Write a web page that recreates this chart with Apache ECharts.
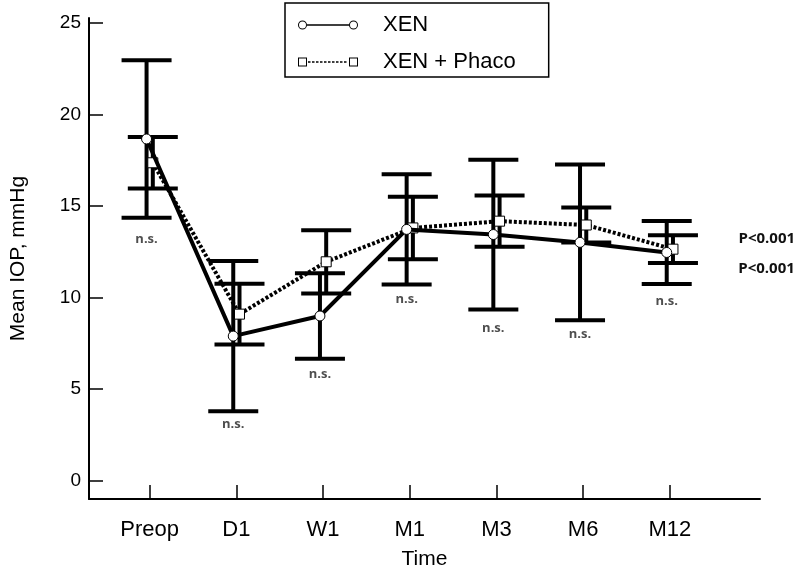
<!DOCTYPE html>
<html><head><meta charset="utf-8">
<script src="https://cdn.jsdelivr.net/npm/echarts@6/dist/echarts.min.js"></script>
<style>html,body{margin:0;padding:0;background:#fff}#c{width:800px;height:575px}</style>
</head><body><div id="c"></div>
<script>
// ---- data ----
const categories = ['Preop', 'D1', 'W1', 'M1', 'M3', 'M6', 'M12'];
const xenMean   = [18.67, 7.90, 9.00, 13.73, 13.45, 13.02, 12.47];
const xenSD     = [4.30, 4.10, 2.34, 3.01, 4.09, 4.26, 1.72];
const phacoMean = [17.37, 9.10, 11.96, 13.81, 14.18, 13.97, 12.65];
const phacoSD   = [1.41, 1.66, 1.73, 1.71, 1.40, 0.95, 0.76];
const nsLevel   = [13.2, 3.1, 5.8, 9.9, 8.3, 8.0, 9.8];
const nsText = 'n.s.';
const pXen = 'P<0.001';
const pPhaco = 'P<0.001';
const yTicks = [0, 5, 10, 15, 20, 25];
const seriesNames = ['XEN', 'XEN + Phaco'];

// ---- styling ----
const FONT = 'Liberation Sans, Arial, sans-serif';
const BFONT = 'Open Sans, sans-serif';
const XEN_DX = -0.036, PHACO_DX = 0.036;
const catIdx = categories.map((c, i) => i);

function ring(cx, cy, r, w) {
  const ri = r - w;
  return `M${cx - r},${cy} A${r},${r} 0 1,0 ${cx + r},${cy} A${r},${r} 0 1,0 ${cx - r},${cy} Z ` +
         `M${cx - ri},${cy} A${ri},${ri} 0 1,1 ${cx + ri},${cy} A${ri},${ri} 0 1,1 ${cx - ri},${cy} Z `;
}
function sq(x, y, s, w) {
  return `M${x},${y} L${x + s},${y} L${x + s},${y + s} L${x},${y + s} Z ` +
         `M${x + w},${y + w} L${x + w},${y + s - w} L${x + s - w},${y + s - w} L${x + s - w},${y + w} Z `;
}
const iconXen = 'path://' + ring(4.5, 4.5, 4.5, 1) + 'M9,3.8 L51,3.8 L51,5.2 L9,5.2 Z ' + ring(55.5, 4.5, 4.5, 1);
let dash = '';
for (let x = 10; x < 50; x += 4) dash += `M${x},3.8 L${Math.min(x + 2.5, 50.5)},3.8 L${Math.min(x + 2.5, 50.5)},5.2 L${x},5.2 Z `;
const iconPhaco = 'path://' + sq(0, 0, 9, 1) + dash + sq(51, 0, 9, 1);

function errRender(params, api) {
  const x = api.value(0), m = api.value(1), s = api.value(2);
  const top = api.coord([x, m + s]);
  const bot = api.coord([x, m - s]);
  const hw = 25;
  const style = { stroke: '#000', lineWidth: 4, fill: null };
  return {
    type: 'group', children: [
      { type: 'line', shape: { x1: top[0], y1: top[1], x2: bot[0], y2: bot[1] }, style },
      { type: 'line', shape: { x1: top[0] - hw, y1: top[1], x2: top[0] + hw, y2: top[1] }, style },
      { type: 'line', shape: { x1: bot[0] - hw, y1: bot[1], x2: bot[0] + hw, y2: bot[1] }, style }
    ]
  };
}

const last = categories.length - 1;
const pLabel = { show: true, position: 'right', fontFamily: BFONT, fontWeight: 'bold', fontSize: 15, color: '#111' };
const xenData = catIdx.map(i => {
  const d = { value: [i + XEN_DX, xenMean[i]] };
  if (i === last) d.label = Object.assign({}, pLabel, { formatter: pXen, offset: [61, 16] });
  return d;
});
const phacoData = catIdx.map(i => {
  const d = { value: [i + PHACO_DX, phacoMean[i]] };
  if (i === last) d.label = Object.assign({}, pLabel, { formatter: pPhaco, offset: [55, -10] });
  return d;
});

const chart = echarts.init(document.getElementById('c'), null, { renderer: 'canvas' });
chart.setOption({
  animation: false,
  backgroundColor: '#fff',
  grid: { left: 84, right: 40, top: 18, bottom: 66, containLabel: false },
  legend: {
    orient: 'vertical', left: 285, top: 3,
    padding: [10, 33, 3, 13], itemGap: 13,
    itemWidth: 60, itemHeight: 9,
    borderColor: '#000', borderWidth: 1.5, borderRadius: 0,
    textStyle: { fontFamily: FONT, fontSize: 22, color: '#000', lineHeight: 24, padding: [0, 0, 0, 20] },
    data: [
      { name: seriesNames[0], icon: iconXen, itemStyle: { color: '#000', borderWidth: 0 } },
      { name: seriesNames[1], icon: iconPhaco, itemStyle: { color: '#000', borderWidth: 0 } }
    ],
    selectedMode: false
  },
  xAxis: {
    type: 'value', min: -0.70, max: 7.04,
    name: 'Time', nameLocation: 'middle', nameGap: 50,
    nameTextStyle: { fontFamily: FONT, fontSize: 21, color: '#000' },
    axisLine: { onZero: false, lineStyle: { color: '#000', width: 2 } },
    axisTick: { inside: true, length: 14, customValues: catIdx, lineStyle: { color: '#000', width: 1.5 } },
    axisLabel: { customValues: catIdx, formatter: v => categories[Math.round(v)], margin: 20,
      fontFamily: FONT, fontSize: 22, color: '#000' },
    splitLine: { show: false }
  },
  yAxis: {
    type: 'value', min: -1, max: 25.28,
    name: 'Mean IOP, mmHg', nameLocation: 'middle', nameGap: 60,
    nameTextStyle: { fontFamily: FONT, fontSize: 21, color: '#000' },
    axisLine: { onZero: false, lineStyle: { color: '#000', width: 2 } },
    axisTick: { inside: true, length: 14, customValues: yTicks, lineStyle: { color: '#000', width: 1.5 } },
    axisLabel: { customValues: yTicks, margin: 8, fontFamily: FONT, fontSize: 19, color: '#000' },
    splitLine: { show: false }
  },
  series: [
    { type: 'custom', name: 'XEN SD', renderItem: errRender, z: 2, silent: true,
      data: catIdx.map(i => [i + XEN_DX, xenMean[i], xenSD[i]]) },
    { type: 'custom', name: 'Phaco SD', renderItem: errRender, z: 2, silent: true,
      data: catIdx.map(i => [i + PHACO_DX, phacoMean[i], phacoSD[i]]) },
    { type: 'line', name: seriesNames[1], data: phacoData, z: 3,
      symbol: 'rect', symbolSize: 10,
      itemStyle: { color: '#fff', borderColor: '#000', borderWidth: 1 },
      lineStyle: { color: '#000', width: 4, type: [3, 2] } },
    { type: 'line', name: seriesNames[0], data: xenData, z: 4,
      symbol: 'circle', symbolSize: 10,
      itemStyle: { color: '#fff', borderColor: '#000', borderWidth: 1 },
      lineStyle: { color: '#000', width: 4 } },
    { type: 'scatter', name: 'ns', silent: true, z: 5,
      symbolSize: 1, itemStyle: { color: 'transparent' },
      label: { show: true, position: 'inside', formatter: nsText,
        fontFamily: BFONT, fontWeight: 'bold', fontSize: 13, color: '#222' },
      data: catIdx.map(i => [i + XEN_DX, nsLevel[i]]) }
  ]
});
</script></body></html>
